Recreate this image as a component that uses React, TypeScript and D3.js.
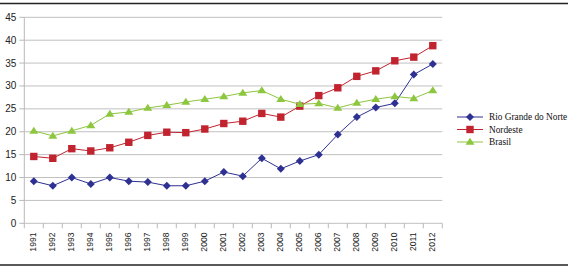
import React from "react";
import * as d3 from "d3";

const years = ["1991","1992","1993","1994","1995","1996","1997","1998","1999","2000","2001","2002","2003","2004","2005","2006","2007","2008","2009","2010","2011","2012"];
const rioGrandeDoNorte = [9.2,8.2,10.0,8.6,10.0,9.2,9.0,8.2,8.2,9.2,11.2,10.3,14.2,11.9,13.6,15.0,19.4,23.2,25.3,26.2,32.5,34.8];
const nordeste = [14.6,14.2,16.3,15.8,16.5,17.7,19.2,19.9,19.8,20.6,21.8,22.3,24.0,23.2,25.6,27.9,29.6,32.1,33.3,35.5,36.3,38.8];
const brasil = [20.2,19.1,20.2,21.4,23.9,24.3,25.2,25.8,26.5,27.1,27.7,28.5,29.0,27.1,26.0,26.2,25.2,26.3,27.1,27.7,27.3,29.0];
const yTicks = [0,5,10,15,20,25,30,35,40,45];

const seriesNames = ["Rio Grande do Norte", "Nordeste", "Brasil"];
const seriesColors = ["#2E3192", "#C1232F", "#8DC63F"];
const seriesMarkers = ["diamond", "square", "triangle"];
const seriesData = [rioGrandeDoNorte, nordeste, brasil];

const W = 575, H = 268;
const left = 24.3, right = 442.3, top = 17.3, bottom = 223.3;
const serif = "'Liberation Serif', 'Times New Roman', Times, serif";
const sans = "'Liberation Sans', Arial, sans-serif";

function Marker({ kind, x, y, color }: { kind: string; x: number; y: number; color: string }) {
  if (kind === "diamond") {
    const r = 4;
    return <path d={`M${x},${y - r}L${x + r},${y}L${x},${y + r}L${x - r},${y}Z`} fill={color} />;
  }
  if (kind === "square") {
    const s = 3.7;
    return <rect x={x - s} y={y - s} width={s * 2} height={s * 2} fill={color} />;
  }
  const w = 4.5, h = 7;
  return <path d={`M${x},${y - h * 0.6}L${x + w},${y + h * 0.4}L${x - w},${y + h * 0.4}Z`} fill={color} />;
}

export default function App() {
  const x = d3.scaleBand().domain(years).range([left, right]).padding(0);
  const y = d3.scaleLinear().domain([0, 45]).range([bottom, top]);
  const cx = (yr: string) => (x(yr) as number) + x.bandwidth() / 2;
  const line = d3.line<number>().x((_, i) => cx(years[i])).y((v) => y(v));
  const boundaries = years.map((yr) => x(yr) as number).concat([right]);

  return (
    <svg width={W} height={H} style={{ position: "absolute", left: 0, top: 0, background: "#fff" }}>
      <line x1={0} x2={568} y1={3.5} y2={3.5} stroke="#222" strokeWidth={1.3} />
      <line x1={0} x2={568} y1={265} y2={265} stroke="#222" strokeWidth={1.3} />
      {yTicks.map((t) => (
        <g key={t}>
          <line x1={left} x2={right} y1={y(t)} y2={y(t)} stroke="#C0C0C0" strokeWidth={1} />
          <line x1={left - 5} x2={left} y1={y(t)} y2={y(t)} stroke="#B8B8B8" strokeWidth={1} />
          <text x={left - 8} y={y(t)} dy="0.35em" textAnchor="end" fontFamily={sans} fontSize={10} fill="#222">{t}</text>
        </g>
      ))}
      <line x1={left} x2={left} y1={top} y2={bottom} stroke="#B8B8B8" strokeWidth={1} />
      {boundaries.map((b, i) => (
        <line key={i} x1={b} x2={b} y1={bottom} y2={bottom + 5} stroke="#B8B8B8" strokeWidth={1} />
      ))}
      {years.map((yr) => (
        <text key={yr} transform={`translate(${cx(yr) - 0.5},${232.5}) rotate(-90)`} dy="0.35em" textAnchor="end" fontFamily={sans} fontSize={8.6} fill="#222">{yr}</text>
      ))}
      {seriesData.map((d, si) => (
        <g key={si}>
          <path d={line(d) || ""} fill="none" stroke={seriesColors[si]} strokeWidth={1} />
          {d.map((v, i) => (
            <Marker key={i} kind={seriesMarkers[si]} x={cx(years[i])} y={y(v)} color={seriesColors[si]} />
          ))}
        </g>
      ))}
      {seriesNames.map((n, si) => {
        const ly = 117 + si * 12.5;
        return (
          <g key={n}>
            <line x1={457} x2={483} y1={ly} y2={ly} stroke={seriesColors[si]} strokeWidth={1} />
            <Marker kind={seriesMarkers[si]} x={470} y={ly} color={seriesColors[si]} />
            <text x={489} y={ly} dy="0.35em" fontFamily={serif} fontSize={9.3} fill="#111">{n}</text>
          </g>
        );
      })}
    </svg>
  );
}
